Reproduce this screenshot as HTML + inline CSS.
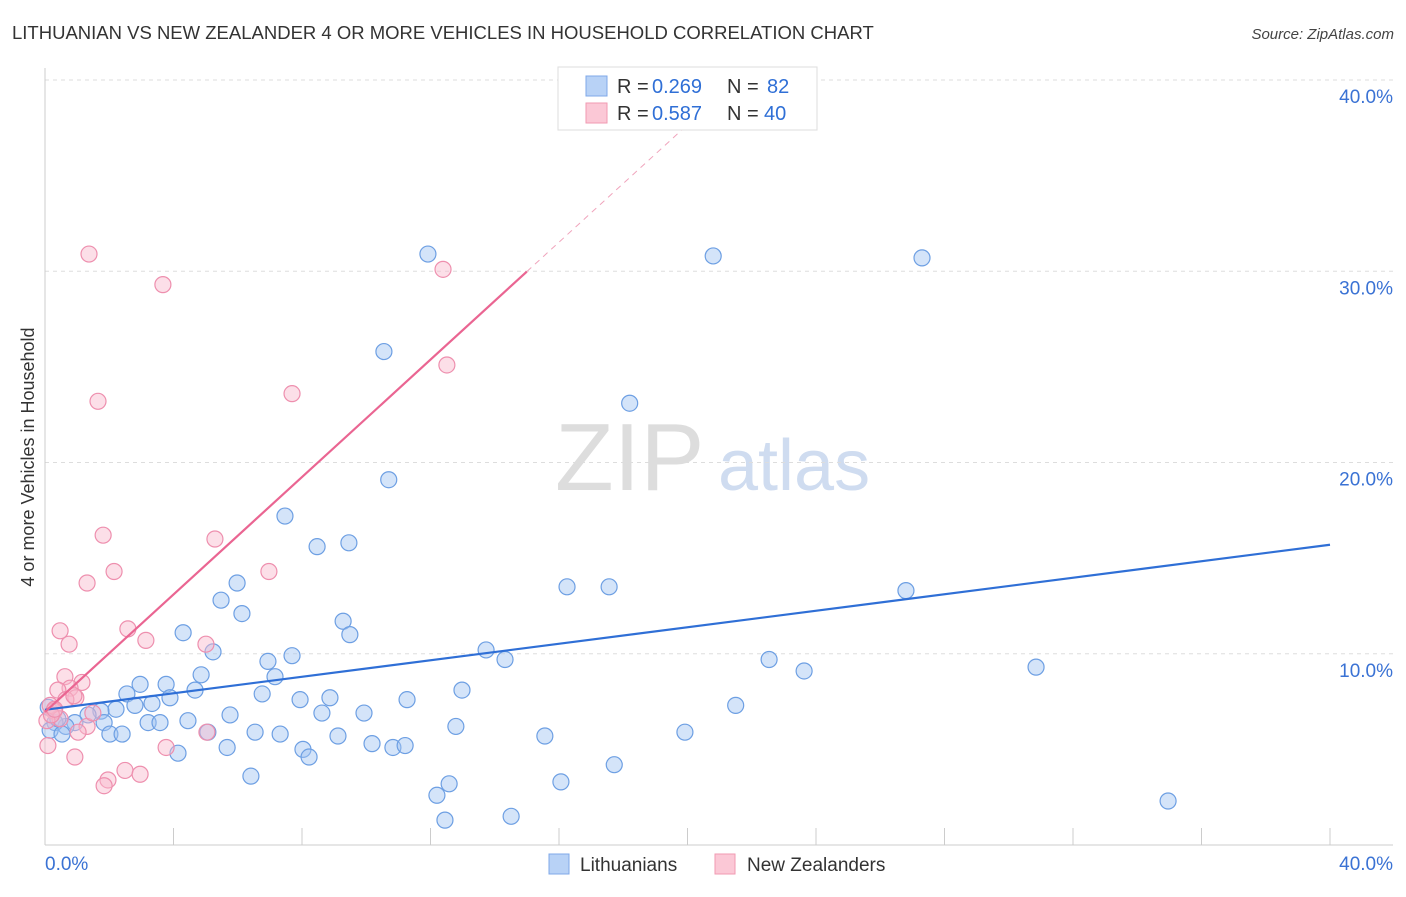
<!DOCTYPE html>
<html><head><meta charset="utf-8"><style>
body{margin:0;background:#fff;font-family:"Liberation Sans",sans-serif}
svg text{font-family:"Liberation Sans",sans-serif}
</style></head><body>
<svg id="chart" width="1406" height="892" xmlns="http://www.w3.org/2000/svg">
<text x="12" y="39" font-size="18.5" fill="#333">LITHUANIAN VS NEW ZEALANDER 4 OR MORE VEHICLES IN HOUSEHOLD CORRELATION CHART</text>
<text x="1394" y="39" font-size="15" fill="#444" text-anchor="end" font-style="italic">Source: ZipAtlas.com</text>
<g>
<text x="555" y="490" font-size="96" fill="#ddd" font-family="Liberation Serif">ZIP</text>
<text x="718" y="490" font-size="72" fill="#cfdcf0">atlas</text>
</g>
<g id="grid"></g>
<g id="axes"></g>
<g id="marks"></g>
<text transform="translate(34,457) rotate(-90)" font-size="18" fill="#333" text-anchor="middle">4 or more Vehicles in Household</text>
<g>
<rect x="558" y="67" width="259" height="63" fill="#fff" stroke="#ddd"/>
<rect x="586" y="76" width="21" height="20" fill="#b8d2f6" stroke="#7fa8e8"/>
<rect x="586" y="103" width="21" height="20" fill="#fbc8d6" stroke="#f09ab2"/>
<text x="617" y="93" font-size="20" fill="#333">R =</text>
<text x="652" y="93" font-size="20" fill="#2f6fd6">0.269</text>
<text x="727" y="93" font-size="20" fill="#333">N =</text>
<text x="767" y="93" font-size="20" fill="#2f6fd6">82</text>
<text x="617" y="120" font-size="20" fill="#333">R =</text>
<text x="652" y="120" font-size="20" fill="#2f6fd6">0.587</text>
<text x="727" y="120" font-size="20" fill="#333">N =</text>
<text x="764" y="120" font-size="20" fill="#2f6fd6">40</text>
</g>
<g>
<rect x="549" y="854" width="20" height="20" fill="#b8d2f6" stroke="#7fa8e8"/>
<text x="580" y="871" font-size="19" fill="#333">Lithuanians</text>
<rect x="715" y="854" width="20" height="20" fill="#fbc8d6" stroke="#f09ab2"/>
<text x="747" y="871" font-size="19" fill="#333">New Zealanders</text>
</g>
</svg>
<script>
const yTicks=[10,20,30,40];
const yTickLabels=["10.0%","20.0%","30.0%","40.0%"];
const blueX=[11.92,20.8,27.3,10.55,18.2,10.7,7.47,8.47,9.46,16.25,17.56,26.8,5.98,5.48,6.13,9.28,9.49,4.30,5.23,7.69,6.94,13.73,14.32,22.54,23.63,30.85,4.86,7.16,3.77,2.96,4.67,2.55,3.89,6.76,7.94,8.87,12.98,11.27,3.33,2.80,2.21,1.74,8.62,9.93,5.76,21.5,1.34,4.45,3.21,3.58,1.84,0.93,0.65,0.31,12.79,0.16,0.53,2.02,2.40,6.54,7.32,9.12,19.92,15.56,5.07,5.67,10.18,10.83,11.21,8.03,8.22,4.14,17.72,6.41,12.58,16.06,12.2,34.96,12.45,14.51,0.1,0.4];
const blueY=[30.9,30.8,30.7,25.8,23.1,19.1,17.2,15.6,15.8,13.5,13.5,13.3,13.7,12.8,12.1,11.7,11.0,11.1,10.1,9.9,9.6,10.2,9.7,9.7,9.1,9.3,8.9,8.8,8.4,8.4,8.1,7.9,7.7,7.9,7.6,7.7,8.1,7.6,7.4,7.3,7.1,7.0,6.9,6.9,6.8,7.3,6.8,6.5,6.4,6.4,6.4,6.4,6.2,6.4,6.2,6.0,5.8,5.8,5.8,5.9,5.8,5.7,5.9,5.7,5.9,5.1,5.3,5.1,5.2,5.0,4.6,4.8,4.2,3.6,3.2,3.3,2.6,2.3,1.3,1.5,7.2,6.6];
const pinkX=[1.37,12.39,3.67,12.51,7.69,1.65,1.81,5.29,2.15,1.31,6.97,0.47,2.58,0.75,3.14,5.01,0.62,1.15,0.78,0.40,0.96,0.65,0.16,0.28,1.31,1.03,5.04,0.09,3.77,0.93,2.49,2.96,1.96,1.84,1.49,0.47,0.06,0.2,0.9,0.3];
const pinkY=[30.9,30.1,29.3,25.1,23.6,23.2,16.2,16.0,14.3,13.7,14.3,11.2,11.3,10.5,10.7,10.5,8.8,8.5,8.2,8.1,7.7,7.6,7.3,7.0,6.2,5.9,5.9,5.2,5.1,4.6,3.9,3.7,3.4,3.1,6.9,6.6,6.5,6.8,7.8,7.1];
const blueTrend=[7.07,15.7];
const pinkTrend=[6.96,1.535];
const X=v=>45+v/40*1285, Y=v=>845-v*19.125;
const NS="http://www.w3.org/2000/svg";
function mk(p,t,a){const e=document.createElementNS(NS,t);for(const k in a)e.setAttribute(k,a[k]);document.getElementById(p).appendChild(e);return e;}
yTicks.forEach((t,i)=>{
 const l=mk('grid','line',{x1:45,x2:1393,y1:Y(t),y2:Y(t),stroke:'#ddd','stroke-dasharray':'4,4'});
 
 
 const tx=mk('axes','text',{x:1393,y:Y(t)+23,'font-size':19,fill:'#3a72d4','text-anchor':'end'});
 tx.textContent=yTickLabels[i];
 
 
});
mk('axes','line',{x1:45,x2:45,y1:68,y2:845,stroke:'#ccc'});
mk('axes','line',{x1:45,x2:1393,y1:845,y2:845,stroke:'#ccc'});
for(let i=0;i<=10;i++){const t=mk('axes','line',{x1:X(i*4),x2:X(i*4),y1:828,y2:845,stroke:'#ccc'});
 
 }
let a=mk('axes','text',{x:45,y:870,'font-size':19,fill:'#3a72d4'});a.textContent='0.0%';

a=mk('axes','text',{x:1393,y:870,'font-size':19,fill:'#3a72d4','text-anchor':'end'});a.textContent='40.0%';

blueX.forEach((x,i)=>{const c=mk('marks','circle',{cx:X(x),cy:Y(blueY[i]),r:8,fill:'rgba(160,196,242,0.45)',stroke:'#6d9fe3','stroke-width':1.2});
 
 });
pinkX.forEach((x,i)=>{const c=mk('marks','circle',{cx:X(x),cy:Y(pinkY[i]),r:8,fill:'rgba(248,184,204,0.45)',stroke:'#ee8fae','stroke-width':1.2});
 
 });
let l=mk('marks','line',{x1:X(0),y1:Y(blueTrend[0]),x2:X(40),y2:Y(blueTrend[1]),stroke:'#2f6fd6','stroke-width':2.2});

const pe=15, pt=(40-pinkTrend[0])/pinkTrend[1];
l=mk('marks','line',{x1:X(0),y1:Y(pinkTrend[0]),x2:X(pe),y2:Y(pinkTrend[0]+pinkTrend[1]*pe),stroke:'#ea6592','stroke-width':2.2});

l=mk('marks','line',{x1:X(pe),y1:Y(pinkTrend[0]+pinkTrend[1]*pe),x2:X(pt),y2:Y(40),stroke:'#f0a4bc','stroke-width':1,'stroke-dasharray':'6,5'});

</script>
</body></html>
